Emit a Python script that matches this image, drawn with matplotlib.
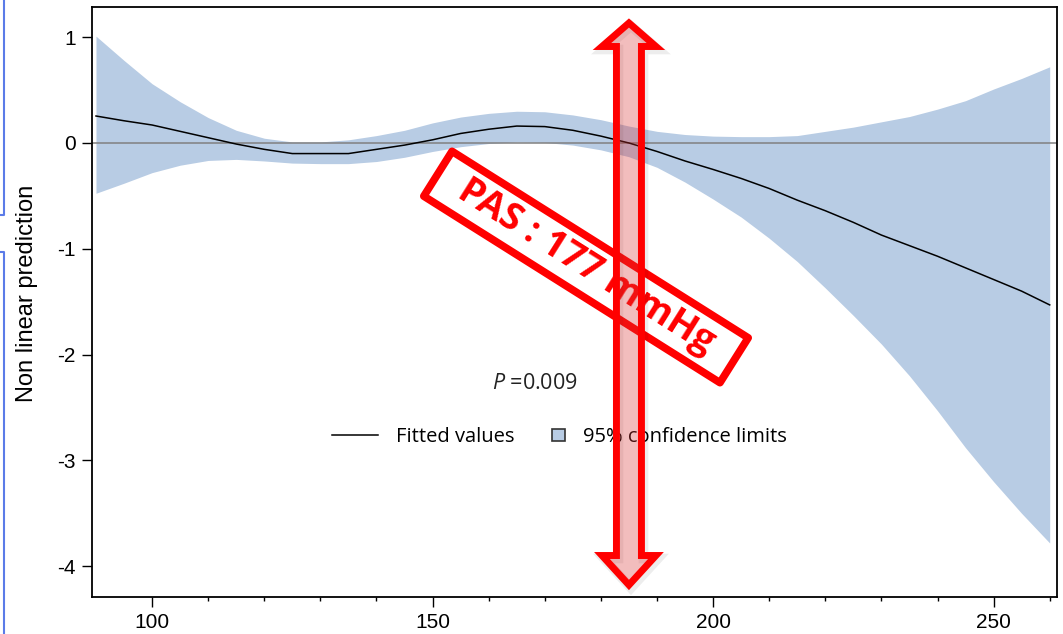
import numpy as np
import matplotlib
matplotlib.use("Agg")
import matplotlib.pyplot as plt
from matplotlib.patches import Polygon, Rectangle
from matplotlib.lines import Line2D
from matplotlib.legend_handler import HandlerPatch
from matplotlib.transforms import IdentityTransform

plt.rcParams["font.family"] = ["Liberation Sans", "DejaVu Sans"]
plt.rcParams["axes.unicode_minus"] = False
plt.rcParams["mathtext.fontset"] = "custom"
plt.rcParams["mathtext.it"] = "Open Sans:italic"
plt.rcParams["mathtext.rm"] = "Open Sans"

# PAS (mmHg) et prédiction non linéaire
pas = [90, 95, 100, 105, 110, 115, 120, 125, 130, 135, 140, 145, 150, 155, 160, 165, 170,
       175, 180, 185, 190, 195, 200, 205, 210, 215, 220, 225, 230, 235, 240, 245, 250, 255, 260]
fitted = [0.255, 0.21, 0.17, 0.11, 0.05, -0.01, -0.06, -0.10, -0.10, -0.10, -0.06, -0.02, 0.03,
          0.09, 0.13, 0.16, 0.155, 0.12, 0.065, 0.0, -0.08, -0.17, -0.25, -0.335, -0.43, -0.54,
          -0.64, -0.75, -0.87, -0.97, -1.07, -1.18, -1.29, -1.40, -1.53]
ci_upper = [1.01, 0.78, 0.56, 0.39, 0.24, 0.12, 0.045, 0.01, 0.01, 0.03, 0.07, 0.12, 0.19,
            0.245, 0.28, 0.30, 0.295, 0.265, 0.22, 0.16, 0.11, 0.08, 0.065, 0.06, 0.06, 0.07,
            0.11, 0.15, 0.20, 0.25, 0.32, 0.40, 0.51, 0.61, 0.72]
ci_lower = [-0.475, -0.38, -0.28, -0.21, -0.165, -0.155, -0.17, -0.19, -0.195, -0.195, -0.175,
            -0.135, -0.08, -0.035, -0.005, 0.01, 0.005, -0.02, -0.065, -0.13, -0.23, -0.37,
            -0.53, -0.70, -0.90, -1.12, -1.37, -1.63, -1.90, -2.20, -2.53, -2.88, -3.20, -3.50,
            -3.78]

x_ticks = [100, 150, 200, 250]
x_minor = [110, 120, 130, 140, 160, 170, 180, 190, 210, 220, 230, 240, 260]
y_ticks = [1, 0, -1, -2, -3, -4]
p_value = "0.009"
annot_text = "PAS : 177 mmHg"
arrow_x = 185

W, H = 1063, 634
fig = plt.figure(figsize=(W / 100, H / 100), dpi=100)
ax = fig.add_axes([91.5 / W, 37 / H, (1057 - 91.5) / W, 590 / H])

band_color = "#b8cce4"
ax.fill_between(pas, ci_lower, ci_upper, color=band_color, linewidth=0, zorder=1)
ax.axhline(0, color="#808080", lw=1.1, zorder=2)
ax.plot(pas, fitted, color="black", lw=1.1, zorder=3)

ax.set_xlim(89.2, 261.3)
ax.set_ylim(-4.29, 1.285)
ax.set_xticks(x_ticks)
ax.set_xticks(x_minor, minor=True)
ax.set_yticks(y_ticks)
ax.set_yticklabels([str(v) for v in y_ticks])
ax.tick_params(which="major", length=7.5, width=1, labelsize=15, pad=4)
ax.tick_params(which="minor", length=3, width=1)
for sp in ax.spines.values():
    sp.set_linewidth(1.3)
ax.set_ylabel("Non linear prediction", fontsize=17)
ax.yaxis.set_label_coords(-0.0554, 0.515)

ax.text(168.3, -2.27, r"$\mathit{P}$ =" + p_value, fontsize=15.5, family="Open Sans",
        ha="center", va="center", color="#222222")


class SquareHandler(HandlerPatch):
    def create_artists(self, legend, orig_handle, xdescent, ydescent, width, height, fontsize, trans):
        s = height * 0.9
        p = Rectangle((width - s - xdescent, -ydescent + (height - s) / 2), s, s,
                      facecolor=band_color, edgecolor="#333333", lw=1.2, transform=trans)
        return [p]


h_line = Line2D([], [], color="black", lw=1.1)
h_band = Rectangle((0, 0), 1, 1)
ax.legend([h_line, h_band], ["Fitted values", "95% confidence limits"], loc="center",
          bbox_to_anchor=(0.4847, 0.271), ncol=2, frameon=False,
          prop={"family": "Open Sans", "size": 14.5}, handlelength=2.3, handletextpad=0.9,
          columnspacing=0.2, handler_map={Rectangle: SquareHandler()})

fig.canvas.draw()

# encadré rouge incliné
cx, cy = 586, H - 267
ang = np.deg2rad(-32.2)
u = np.array([np.cos(ang), np.sin(ang)])
v = np.array([-np.sin(ang), np.cos(ang)])
hl, hw = 175, 26.5
c = np.array([cx, cy])
corners = [c - hl * u + hw * v, c + hl * u + hw * v, c + hl * u - hw * v, c - hl * u - hw * v]
fig.add_artist(Polygon(corners, closed=True, fill=False, edgecolor="red", lw=5.5,
                       joinstyle="round", transform=IdentityTransform(), zorder=5))
fig.text(cx / W, cy / H, annot_text, color="red", fontsize=27, fontweight="bold",
         family="Open Sans", rotation=-32.2, rotation_mode="anchor", ha="center", va="center",
         zorder=6)

# double flèche verticale
ax_px = ax.transData.transform((arrow_x, 0))[0]
top, bot = H - 23, H - 585
hb_t, hb_b = H - 46.5, H - 555.5
sw, hw2 = 12.5, 27
pts = [(ax_px, top), (ax_px + hw2, hb_t), (ax_px + sw, hb_t), (ax_px + sw, hb_b),
       (ax_px + hw2, hb_b), (ax_px, bot), (ax_px - hw2, hb_b), (ax_px - sw, hb_b),
       (ax_px - sw, hb_t), (ax_px - hw2, hb_t)]
shadow = [(x + 2, y - 3) for x, y in pts]
fig.add_artist(Polygon(shadow, closed=True, facecolor="none", edgecolor=(0, 0, 0, 0.07),
                       lw=7, joinstyle="miter", transform=IdentityTransform(), zorder=7))
fig.add_artist(Polygon(pts, closed=True, facecolor=(0.85, 0.2, 0.2, 0.32), edgecolor="red",
                       lw=5, joinstyle="miter", transform=IdentityTransform(), zorder=8))

# traits bleus à gauche (capture d'écran)
blue = "#5b7be8"
for xs, ys in [([0, 4, 4], [H - 215, H - 215, H]), ([0, 4, 4], [H - 252, H - 252, 0])]:
    fig.add_artist(Line2D(xs, ys, color=blue, lw=1.5, transform=IdentityTransform()))

fig.savefig("out.png", dpi=100)
